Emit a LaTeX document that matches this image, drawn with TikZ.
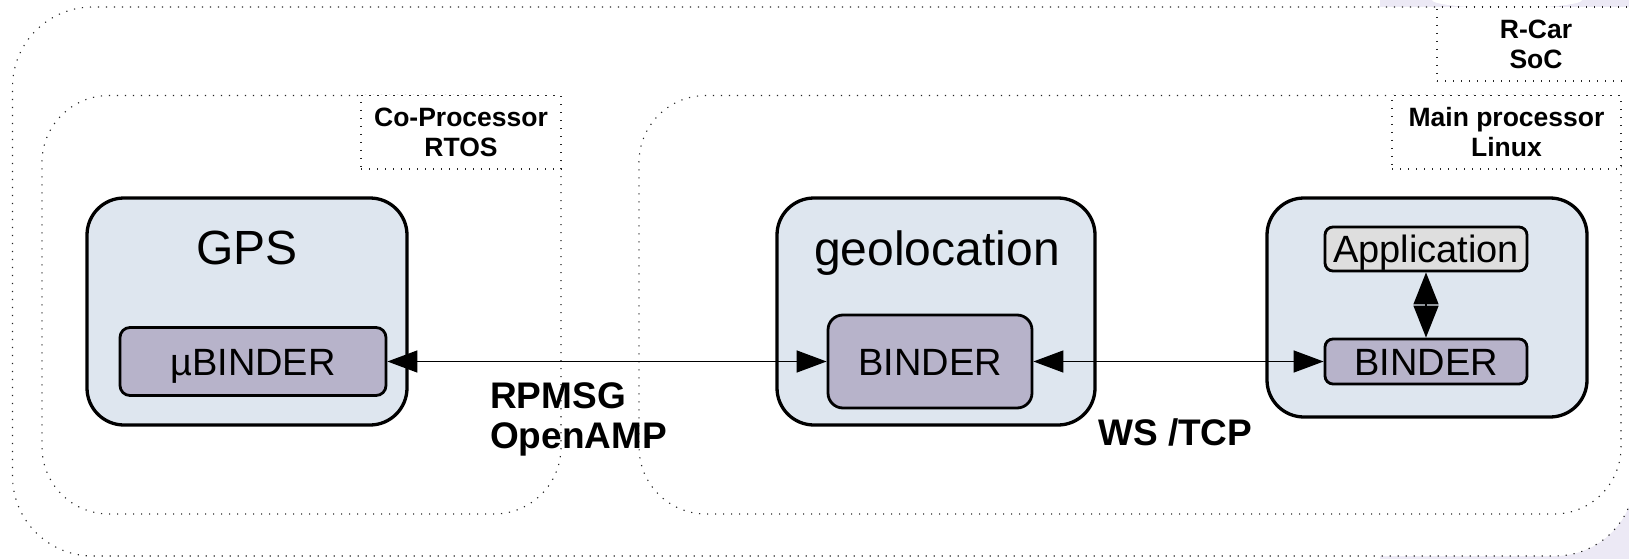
\documentclass[tikz,border=0pt]{standalone}
\usepackage{fontspec}
\setmainfont{Liberation Sans}
\usetikzlibrary{arrows.meta}

\definecolor{boxblue}{RGB}{222,230,239}
\definecolor{binderfill}{RGB}{183,179,202}
\definecolor{appfill}{RGB}{222,222,222}
\definecolor{pagelav}{RGB}{236,233,245}

\tikzset{
  dots/.style={draw=black!85, line width=1.1pt, dash pattern=on 1.2pt off 6.8pt},
  region/.style={dots, rounded corners=#1, inner sep=0pt},
  tag/.style={dots, fill=white, inner sep=0pt, align=center,
    font=\fontsize{26.5}{30}\selectfont\bfseries},
  component/.style={draw=black, fill=boxblue, line width=3.3pt,
    rounded corners=37pt, inner sep=0pt},
  title/.style={anchor=base, inner sep=0pt, font=\fontsize{48}{52}\selectfont},
  iface/.style={draw=black, line width=2.8pt, inner sep=0pt,
    font=\fontsize{38}{42}\selectfont, text height=27pt, text depth=0pt},
  proto/.style={inner sep=0pt, align=left, font=\fontsize{37}{40}\selectfont\bfseries},
  link/.style={line width=1.4pt, {Triangle[length=30pt,width=22pt]}-{Triangle[length=30pt,width=22pt]}},
  vlink/.style={line width=1.4pt, {Triangle[length=32pt,width=25pt]}-{Triangle[length=32pt,width=25pt]}}
}

\begin{document}
\begin{tikzpicture}[x=1pt, y=-1pt]
  \useasboundingbox (0,0) rectangle (1629,559);
  \clip (0,0) rectangle (1629,559);

  % page backdrop on the right
  \fill[pagelav] (1380,0) rectangle (1629,559);
  \fill[white] (1507,0) ellipse [x radius=75, y radius=8];

  % SoC, processors and their tags
  \node[region=80pt, fill=white, minimum width=1622.5pt, minimum height=549pt] (soc) at (823.75,281.5) {};
  \node[region=67pt, minimum width=519pt, minimum height=418.5pt] (coproc) at (301.5,304.75) {};
  \node[region=67pt, minimum width=982pt, minimum height=418.5pt] (mainproc) at (1130,304.75) {};

  \node[tag, minimum width=198pt, minimum height=74pt] (soctag) at (1536,44) {R-Car\\SoC};
  \node[tag, minimum width=200pt, minimum height=73.5pt] (cotag) at (461,132.25) {Co-Processor\\RTOS};
  \node[tag, minimum width=229pt, minimum height=73.5pt] (maintag) at (1506.5,132.25) {Main processor\\Linux};

  % components
  \node[component, minimum width=320pt, minimum height=227pt] (gps) at (247,311.5) {};
  \node[component, minimum width=318pt, minimum height=227pt] (geo) at (936,311.5) {};
  \node[component, minimum width=320pt, minimum height=219pt] (appbox) at (1427,307.5) {};

  \node[title] (gpstitle) at (247,264) {GPS};
  \node[title] (geotitle) at (937,265) {geolocation};

  % binders and the application
  \node[iface, fill=binderfill, rounded corners=10pt, minimum width=266pt, minimum height=68pt] (ubinder) at (253,361.5) {µBINDER};
  \node[iface, fill=binderfill, rounded corners=15pt, minimum width=204pt, minimum height=93pt] (bindera) at (930,361.5) {BINDER};
  \node[iface, fill=appfill, rounded corners=8pt, minimum width=202pt, minimum height=44pt] (application) at (1426,249) {Application};
  \node[iface, fill=binderfill, rounded corners=8pt, minimum width=202pt, minimum height=45pt] (binderb) at (1426,361.5) {BINDER};

  % links
  \draw[link] (ubinder.east) -- (bindera.west);
  \draw[link] (bindera.east) -- (binderb.west);
  \draw[vlink] (application.south) -- (binderb.north);

  % transport labels
  \node[proto, anchor=north west] (rpmsg) at (490,382) {RPMSG\\OpenAMP};
  \node[proto, anchor=north west] (wstcp) at (1098,418) {WS /TCP};
\end{tikzpicture}
\end{document}
